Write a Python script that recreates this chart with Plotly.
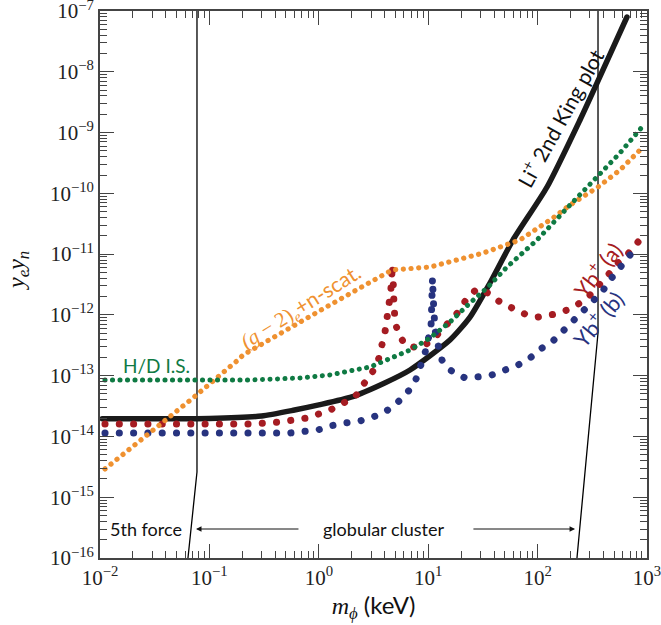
import math
import plotly.graph_objects as go

# ---- data (mass in keV, coupling y_e*y_n) ----
mass_li = [0.0105, 0.1, 0.3, 0.6, 1.0, 2.0, 4.0, 6.82, 15.8, 24.1, 36.7, 59.6, 122, 244,
           349, 656]
y_li = [1.95e-14, 1.98e-14, 2.17e-14, 2.72e-14, 3.30e-14, 4.46e-14, 7.58e-14, 1.24e-13,
        3.86e-13, 9.2e-13, 3.35e-12, 1.71e-11, 1.27e-10, 1.61e-9, 6.53e-9, 7.97e-8]

mass_g2 = [0.0111, 0.0275, 0.0708, 0.1825, 0.203, 1.266, 4.668, 10.39, 31.7, 69.0,
           138, 198, 357, 566, 900]
y_g2 = [2.92e-15, 1.06e-14, 4.30e-14, 1.81e-13, 2.19e-13, 1.46e-12, 5.48e-12, 6.14e-12,
        1.04e-11, 1.71e-11, 3.93e-11, 6.43e-11, 1.27e-10, 2.42e-10, 5.57e-10]

mass_hd = [0.0111, 0.235, 0.673, 1.266, 2.94, 6.82, 10.39, 15.82, 24.1, 35.2, 52.5,
           98.9, 198, 357, 566, 900]
y_hd = [8.49e-14, 8.49e-14, 9.16e-14, 1.03e-13, 1.39e-13, 2.64e-13, 4.17e-13, 7.64e-13,
        1.57e-12, 2.88e-12, 6.14e-12, 1.71e-11, 6.43e-11, 2.0e-10, 4.61e-10, 1.23e-9]

mass_yba = [0.0111, 0.235, 0.442, 0.780, 1.266, 1.664, 2.142, 2.535, 3.064, 3.499,
            3.758, 4.029, 4.176, 4.410, 4.542, 4.638, 4.688, 4.788, 4.81, 4.838,
            4.972, 5.330, 6.138, 8.11, 10.39, 12.82, 15.82, 19.53, 22.63, 27.93,
            35.21, 45.33, 58.34, 80.02, 100.8, 144.2, 185.7, 244.1, 301.3, 356.6,
            440.1, 543.1, 656.7, 827.6]
y_yba = [1.60e-14, 1.60e-14, 1.73e-14, 2.01e-14, 2.72e-14, 3.42e-14, 4.46e-14, 7.03e-14,
         1.11e-13, 1.81e-13, 2.96e-13, 5.24e-13, 8.23e-13, 1.46e-12, 2.38e-12, 4.04e-12,
         6.62e-12, 3.75e-12, 2.38e-12, 1.46e-12, 7.64e-13, 5.04e-13, 3.20e-13, 2.85e-13,
         3.58e-13, 5.24e-13, 7.64e-13, 1.20e-12, 1.90e-12, 2.67e-12, 2.29e-12, 1.63e-12,
         1.30e-12, 9.96e-13, 9.23e-13, 1.03e-12, 1.20e-12, 1.57e-12, 2.12e-12, 3.10e-12,
         4.53e-12, 7.14e-12, 9.67e-12, 1.58e-11]

mass_ybb = [0.0111, 0.545, 0.983, 1.266, 1.736, 2.380, 3.129, 4.029, 5.185, 6.402,
            7.574, 8.414, 9.348, 9.958, 10.61, 10.72, 10.83, 10.95, 11.06, 11.18,
            11.30, 11.54, 12.29, 13.37, 15.82, 21.70, 27.93, 38.31, 50.35, 66.21,
            85.23, 109.7, 135.4, 167.1, 210.7, 260.0, 320.9, 387.9, 459.1, 566.5,
            670.6, 827.6]
y_ybb = [1.14e-14, 1.14e-14, 1.28e-14, 1.49e-14, 1.66e-14, 1.80e-14, 2.09e-14, 2.52e-14,
         3.55e-14, 5.19e-14, 7.87e-14, 1.34e-13, 2.36e-13, 3.86e-13, 6.32e-13, 1.12e-12,
         1.90e-12, 4.04e-12, 2.38e-12, 1.57e-12, 9.23e-13, 5.65e-13, 3.20e-13, 1.81e-13,
         1.24e-13, 9.16e-14, 9.51e-14, 1.03e-13, 1.24e-13, 1.50e-13, 1.95e-13, 2.85e-13,
         3.58e-13, 5.24e-13, 7.64e-13, 1.07e-12, 1.63e-12, 2.38e-12, 3.75e-12, 5.91e-12,
         8.97e-12, 1.41e-11]

# bounds: 5th force (left) and globular cluster (right)
mass_5th = [0.0770, 0.0770, 0.0637]
y_5th = [1e-7, 2.6e-15, 1e-16]
mass_gc = [356.6, 356.6, 229]
y_gc = [1e-7, 5.04e-13, 1e-16]

# arrows (head, tail) at the label height
arrow_y = 3.0e-16
arrow_5th = (0.0754, 0.673)
arrow_gc = (220, 25.1)

# tick labels
x_exps = [-2, -1, 0, 1, 2, 3]
y_exps = [-16, -15, -14, -13, -12, -11, -10, -9, -8, -7]

RED = "#a51c22"
BLUE = "#27337f"
ORANGE = "#ef9130"
GREEN = "#0f7a43"
SANS = "Lato"
SERIF = "Liberation Serif"


def pow_label(e):
    return "10<sup>%s</sup>" % (str(e).replace("-", "−"))


fig = go.Figure()
fig.add_trace(go.Scatter(x=mass_5th, y=y_5th, mode="lines",
                         line=dict(color="black", width=1.3)))
fig.add_trace(go.Scatter(x=mass_gc, y=y_gc, mode="lines",
                         line=dict(color="black", width=1.3)))
fig.add_trace(go.Scatter(x=mass_li, y=y_li, mode="lines",
                         line=dict(color="#1a1a1a", width=5.5, shape="spline", smoothing=0.6)))
fig.add_trace(go.Scatter(x=mass_yba, y=y_yba, mode="lines",
                         line=dict(color=RED, width=7, dash="0.1px,14.2px")))
fig.add_trace(go.Scatter(x=mass_ybb, y=y_ybb, mode="lines",
                         line=dict(color=BLUE, width=7, dash="0.1px,14.2px")))
fig.add_trace(go.Scatter(x=mass_g2, y=y_g2, mode="lines",
                         line=dict(color=ORANGE, width=5.2, dash="0.1px,7.6px")))
fig.add_trace(go.Scatter(x=mass_hd, y=y_hd, mode="lines",
                         line=dict(color=GREEN, width=5.0, dash="0.1px,7.4px")))

ann = []
for head, tail in (arrow_5th, arrow_gc):
    ann.append(dict(x=math.log10(head), y=math.log10(arrow_y), xref="x", yref="y",
                    ax=math.log10(tail), ay=math.log10(arrow_y), axref="x", ayref="y",
                    text="", showarrow=True, arrowhead=2, arrowsize=1.1, arrowwidth=1,
                    arrowcolor="#111"))


def label(text, xp, yp, color, size, angle=0, family=SANS):
    ann.append(dict(x=xp, y=yp, xref="paper", yref="paper", text=text, showarrow=False,
                    textangle=angle, font=dict(family=family, size=size, color=color),
                    xanchor="center", yanchor="middle"))


label("5th force", 0.0841, 0.0530, "#111", 18)
label("globular cluster", 0.518, 0.0530, "#111", 18)
label("H/D I.S.", 0.1024, 0.3528, GREEN, 19)
label('<span style="font-family:Liberation Serif"><i>(g</i> − 2)<sub><i>e</i></sub></span>+n-scat.',
      0.367, 0.459, ORANGE, 21, -32)
label("Li<sup>+</sup> 2nd King plot", 0.840, 0.806, "#111", 21, -61)
label("Yb<sup>+</sup> (a)", 0.9086, 0.527, RED, 22, -52)
label("Yb<sup>+</sup> (b)", 0.910, 0.437, BLUE, 22, -50)
# y-axis title
label("<i>y</i><sub><i>e</i></sub><i>y</i><sub><i>n</i></sub>", -0.150, 0.5265, "#111", 24,
      -90, SERIF)

axis_common = dict(
    type="log", automargin=False,
    showline=True, linecolor="#444", linewidth=1.8, mirror="allticks",
    ticks="inside", ticklen=14, tickwidth=1.2, tickcolor="#444",
    showgrid=False, zeroline=False, ticklabeloverflow="allow",
    tickfont=dict(family=SERIF, size=21, color="#222"),
    minor=dict(ticks="inside", ticklen=7, tickwidth=1.1, tickcolor="#444",
               dtick="D1", showgrid=False),
)

fig.update_layout(
    width=661, height=625,
    margin=dict(l=100, r=14, t=11, b=67),
    paper_bgcolor="white", plot_bgcolor="white",
    showlegend=False,
    annotations=ann,
    xaxis=dict(range=[-2, 3.00001],
               tickmode="array", tickvals=[10.0 ** e for e in x_exps],
               ticktext=[pow_label(e) for e in x_exps],
               title=dict(text='<span style="font-family:Liberation Serif"><i>m</i><sub><i>ϕ</i></sub></span> (keV)',
                          font=dict(family=SANS, size=24, color="#111"), standoff=4),
               **axis_common),
    yaxis=dict(range=[-16, -6.99999],
               tickmode="array", tickvals=[10.0 ** e for e in y_exps],
               ticktext=[pow_label(e) for e in y_exps],
               **axis_common),
)

post = ("document.body.style.margin='0';"
        "var s=document.createElement('style');"
        "s.innerHTML='body{margin:0 !important;} .js-line{stroke-linecap:round !important;}';"
        "document.head.appendChild(s);")
fig.write_html("out.html", post_script=post, config={"displayModeBar": False})
